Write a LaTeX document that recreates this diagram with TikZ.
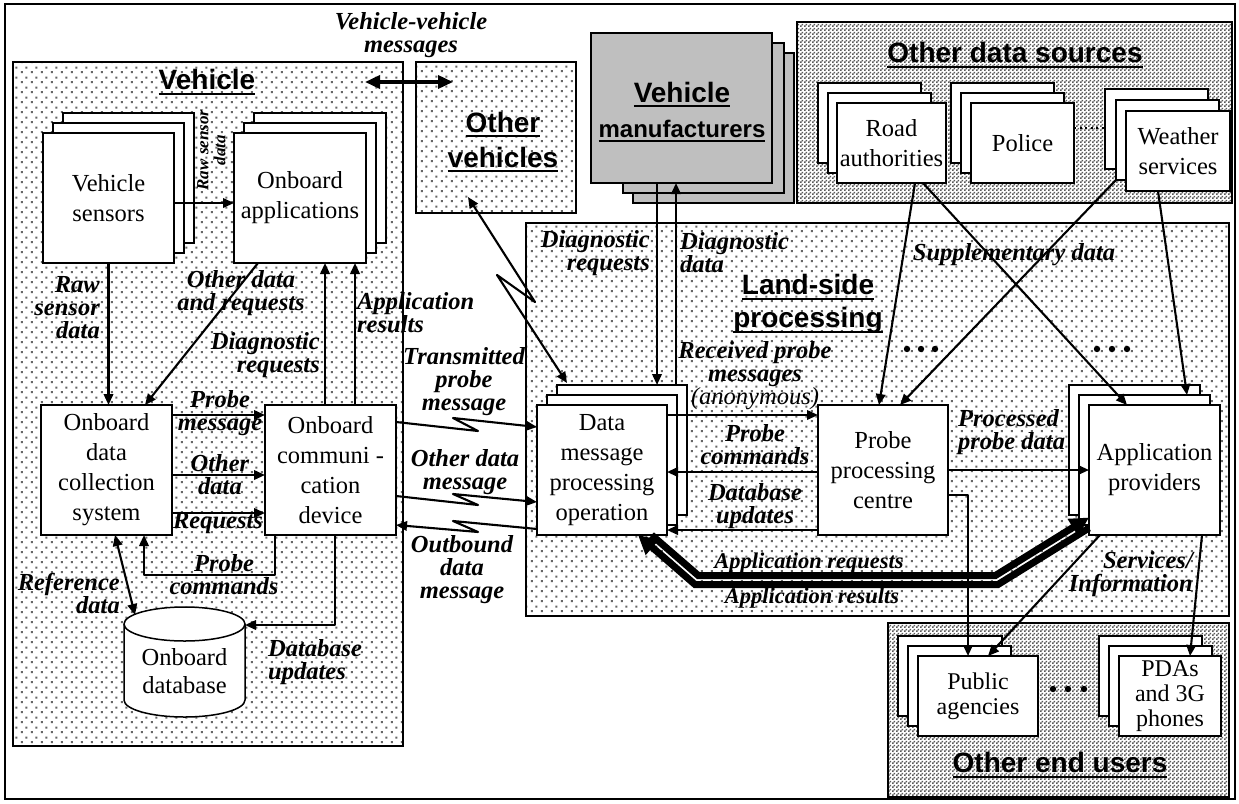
\documentclass[tikz,border=0pt]{standalone}
\usepackage{fontspec}
\setmainfont{Liberation Serif}
\setsansfont{Liberation Sans}
\usetikzlibrary{arrows.meta,patterns,calc}

% sparse staggered dots used for the processing areas
\pgfdeclarepatternformonly{sparsedots}{\pgfqpoint{0pt}{0pt}}{\pgfqpoint{10pt}{10pt}}{\pgfqpoint{10pt}{10pt}}{%
  \pgfpathrectangle{\pgfqpoint{1pt}{1pt}}{\pgfqpoint{2.1pt}{2.1pt}}%
  \pgfpathrectangle{\pgfqpoint{6pt}{6pt}}{\pgfqpoint{2.1pt}{2.1pt}}%
  \pgfusepath{fill}}
% fine checkerboard used for the external groups
\pgfdeclarepatternformonly{finechecker}{\pgfqpoint{0pt}{0pt}}{\pgfqpoint{4pt}{4pt}}{\pgfqpoint{4pt}{4pt}}{%
  \pgfpathrectangle{\pgfqpoint{0pt}{0pt}}{\pgfqpoint{2pt}{2pt}}%
  \pgfpathrectangle{\pgfqpoint{2pt}{2pt}}{\pgfqpoint{2pt}{2pt}}%
  \pgfusepath{fill}}

% heavy underline for the group titles
\newcommand{\ttl}[1]{\leavevmode\setbox0\hbox{#1}\rlap{\rule[-5pt]{\wd0}{2pt}}\box0}

\tikzset{
  region/.style={draw, line width=1.5pt, inner sep=0pt, outer sep=0pt},
  dotregion/.style={region, pattern=sparsedots, pattern color=black!60},
  checkregion/.style={region, pattern=finechecker, pattern color=black!65},
  mfr/.style={draw, fill=black!25, line width=1.5pt, inner sep=0pt, outer sep=0pt},
  card/.style={draw, fill=white, line width=1.5pt, inner sep=0pt, outer sep=0pt,
    align=center, font=\fontsize{24.5}{30}\selectfont},
  smallcard/.style={card, font=\fontsize{24}{25}\selectfont},
  lbl/.style={font=\fontsize{24.5}{23}\selectfont\bfseries\itshape, inner sep=1pt, align=center},
  title/.style={font=\fontsize{28}{35}\selectfont\sffamily\bfseries, align=center, inner sep=0pt},
  arr/.style={line width=2.1pt, line join=round, -{Triangle[length=11pt,width=9.5pt]}},
  darr/.style={line width=2.1pt, line join=round, {Triangle[length=11pt,width=9.5pt]}-{Triangle[length=11pt,width=9.5pt]}},
  bigdarr/.style={line width=3.5pt, {Triangle[length=15pt,width=13pt]}-{Triangle[length=15pt,width=13pt]}},
  fat/.style={line width=7pt, -{Triangle[length=19pt,width=19pt]}},
}

\begin{document}
\begin{tikzpicture}[x=1pt,y=-1pt]
\useasboundingbox (0,0) rectangle (1239,803);
\fill[white] (0,0) rectangle (1239,803);
\draw[line width=1.3pt] (5,4) rectangle (1235,799);

% ---------- group areas ----------
\node[dotregion, minimum width=390pt, minimum height=684pt] (veh) at (208,404) {};
\node[dotregion, minimum width=160pt, minimum height=151pt] (ov) at (496,137.5) {};
\node[checkregion, minimum width=435pt, minimum height=181pt] (ods) at (1014.5,112.5) {};
\node[dotregion, minimum width=703pt, minimum height=393pt] (land) at (877.5,419.5) {};
\node[checkregion, minimum width=341pt, minimum height=174pt] (oeu) at (1058.5,710) {};

\node[mfr, minimum width=161pt, minimum height=150pt] (vm3) at (713.5,128) {};
\node[mfr, minimum width=161pt, minimum height=150pt] (vm2) at (703.5,118) {};
\node[mfr, minimum width=181pt, minimum height=150pt] (vm) at (681.5,108) {};

% ---------- titles ----------
\node[title] (vehT) at (207,82) {\ttl{Vehicle}};
\node[title] (ovT) at (503,142) {\ttl{Other}\\\ttl{vehicles}};
\node[title] (vmT) at (682,112) {\ttl{Vehicle}\\{\fontsize{24}{35}\selectfont\ttl{manufacturers}}};
\node[title] (odsT) at (1015,55) {\ttl{Other data sources}};
\node[title, font=\fontsize{28}{33}\selectfont\sffamily\bfseries] (landT) at (808,304) {\ttl{Land-side}\\\ttl{processing}};
\node[title] (oeuT) at (1060,765) {\ttl{Other end users}};

% ---------- vehicle side ----------
\node[card, minimum width=131pt, minimum height=130pt] (vs3) at (128.5,178) {};
\node[card, minimum width=131pt, minimum height=130pt] (vs2) at (118.5,188) {};
\node[card, minimum width=131pt, minimum height=130pt] (vs) at (108.5,198) {Vehicle\\sensors};

\node[card, minimum width=132pt, minimum height=130pt] (apps3) at (320,178) {};
\node[card, minimum width=132pt, minimum height=130pt] (apps2) at (310,188) {};
\node[card, minimum width=132pt, minimum height=130pt] (apps) at (300,198) {Onboard\\applications};

\node[card, minimum width=131pt, minimum height=130pt] (odcs) at (106.5,470) {Onboard\\data\\collection\\system};
\node[card, minimum width=131pt, minimum height=130pt] (ocd) at (330.5,470) {Onboard\\communi -\\cation\\device};

% onboard database (cylinder drawn round its node)
\node[minimum width=121pt, minimum height=110pt, inner sep=0pt, outer sep=0pt] (db) at (184.5,662) {};
\draw[line width=1.5pt, fill=white]
  ([yshift=-17pt]db.north west) -- ([yshift=17pt]db.south west)
  arc[start angle=180, end angle=360, x radius=60.5pt, y radius=17pt]
  -- ([yshift=-17pt]db.north east)
  arc[start angle=0, end angle=180, x radius=60.5pt, y radius=17pt] -- cycle;
\draw[line width=1.5pt] ([yshift=-17pt]db.north west)
  arc[start angle=180, end angle=360, x radius=60.5pt, y radius=17pt];
\node[align=center, font=\fontsize{24.5}{28}\selectfont] (dbtext) at (184.5,671) {Onboard\\database};

% ---------- land side ----------
\node[card, minimum width=130pt, minimum height=130pt] (dmpo3) at (622,450) {};
\node[card, minimum width=130pt, minimum height=130pt] (dmpo2) at (612,460) {};
\node[card, minimum width=130pt, minimum height=130pt] (dmpo) at (602,470) {Data\\message\\processing\\operation};

\node[card, minimum width=130pt, minimum height=130pt] (ppc) at (883,470) {Probe\\processing\\centre};

\node[card, minimum width=131pt, minimum height=130pt] (ap3) at (1134.5,450) {};
\node[card, minimum width=131pt, minimum height=130pt] (ap2) at (1144.5,460) {};
\node[card, minimum width=131pt, minimum height=130pt] (ap) at (1154.5,470) {Application\\providers};

% ---------- other data sources ----------
\node[card, minimum width=103pt, minimum height=80pt] (ra3) at (869.5,123) {};
\node[card, minimum width=103pt, minimum height=80pt] (ra2) at (879.5,133) {};
\node[card, minimum width=109pt, minimum height=80pt] (ra) at (891.5,143) {Road\\authorities};

\node[card, minimum width=103pt, minimum height=80pt] (pol3) at (1002.5,123) {};
\node[card, minimum width=103pt, minimum height=80pt] (pol2) at (1012.5,133) {};
\node[card, minimum width=103pt, minimum height=80pt] (pol) at (1022.5,143) {Police};

\node[card, minimum width=103pt, minimum height=80pt] (ws3) at (1156.5,129) {};
\node[card, minimum width=103pt, minimum height=80pt] (ws2) at (1167.5,140) {};
\node[card, minimum width=104pt, minimum height=80pt] (ws) at (1178,151) {Weather\\services};

\draw[line width=2pt, dash pattern=on 2pt off 3.5pt] ([yshift=15pt]pol.east) -- ([yshift=15pt]pol.east -| ws3.west);

% ---------- other end users ----------
\node[smallcard, minimum width=104pt, minimum height=80pt] (pa3) at (950,676) {};
\node[smallcard, minimum width=103pt, minimum height=80pt] (pa2) at (959.5,686) {};
\node[smallcard, minimum width=120pt, minimum height=80pt] (pa) at (978,696) {Public\\agencies};

\node[smallcard, minimum width=103pt, minimum height=80pt] (pda3) at (1150.5,676) {};
\node[smallcard, minimum width=103pt, minimum height=80pt] (pda2) at (1160.5,686) {};
\node[smallcard, minimum width=102pt, minimum height=80pt] (pda) at (1170,696) {PDAs\\and 3G\\phones};

% ellipses marking further members
\foreach \x in {907,921,935} \fill (\x,349) circle (3.2pt);
\foreach \x in {1097,1112,1127} \fill (\x,349) circle (3.2pt);
\foreach \x in {1053,1068,1084} \fill (\x,689) circle (3.2pt);

% ---------- labels ----------
\node[lbl] (lvv) at (411,35) {Vehicle-vehicle\\messages};
\node[lbl, rotate=90, font=\fontsize{17}{17}\selectfont\bfseries\itshape] (lrs1) at (211.5,150) {Raw sensor\\data};
\node[lbl, align=right, anchor=east] (lrs2) at (101,308) {Raw\\sensor\\data};
\node[lbl] (lodr) at (241,293) {Other data\\and requests};
\node[lbl, align=right, anchor=east] (ldr1) at (321,355) {Diagnostic\\requests};
\node[lbl, align=left, anchor=west] (lar) at (356,313) {Application\\results};
\node[lbl] (lpm) at (220,413) {Probe\\message};
\node[lbl] (lod) at (220,475) {Other\\data};
\node[lbl] (lrq) at (218,523) {Requests};
\node[lbl] (lpc1) at (224,575) {Probe\\commands};
\node[lbl, align=right, anchor=east] (lref) at (121,593) {Reference\\data};
\node[lbl, align=left, anchor=west] (ldu1) at (267,662) {Database\\updates};
\node[lbl] (ltpm) at (464,382) {Transmitted\\probe\\message};
\node[lbl] (lodm) at (465,472) {Other data\\message};
\node[lbl] (lout) at (462,570) {Outbound\\data\\message};
\node[lbl, align=right, anchor=east] (ldr2) at (651,253) {Diagnostic\\requests};
\node[lbl, align=left, anchor=west] (ldd) at (679,253) {Diagnostic\\data};
\node[lbl] (lsup) at (1014,255) {Supplementary data};
\node[lbl] (lrpm) at (755,376) {Received probe\\messages\\{\mdseries(anonymous)}};
\node[lbl] (lpc2) at (755,445) {Probe\\commands};
\node[lbl] (ldu2) at (755,506) {Database\\updates};
\node[lbl, align=left, anchor=west] (lppd) at (957,432) {Processed\\probe data};
\node[lbl, font=\fontsize{22.5}{22}\selectfont\bfseries\itshape] (lareq) at (809,563) {Application requests};
\node[lbl, font=\fontsize{22.5}{22}\selectfont\bfseries\itshape] (lares) at (812,598) {Application results};
\node[lbl, align=right, anchor=east] (lsi) at (1194,574) {Services/\\Information};

% ---------- connectors: vehicle ----------
\draw[arr] (vs.south) -- (vs.south |- odcs.north);
\draw[arr] ([yshift=-5pt]vs.east) -- ([yshift=-5pt]vs.east -| apps.west);
\draw[arr] ([xshift=-42pt]apps.south) -- ([xshift=38.5pt]odcs.north);
\draw[arr] ([xshift=-5.5pt]ocd.north) -- ([xshift=-5.5pt]ocd.north |- apps.south);
\draw[arr] ([xshift=24.5pt]ocd.north) -- ([xshift=24.5pt]ocd.north |- apps.south);
\draw[arr] ([yshift=55pt]odcs.east) -- ([yshift=55pt]odcs.east -| ocd.west);
\draw[arr] ([yshift=-5pt]odcs.east) -- ([yshift=-5pt]odcs.east -| ocd.west);
\draw[arr] ([yshift=-43pt]odcs.east) -- ([yshift=-43pt]odcs.east -| ocd.west);
\draw[arr] ([xshift=-55.5pt]ocd.south) -- ++(0,40) -| ([xshift=37.5pt]odcs.south);
\draw[darr] ([xshift=8.5pt]odcs.south) -- ([xshift=11pt,yshift=-8pt]db.north west);
\draw[arr] ([xshift=4.5pt]ocd.south) |- ([yshift=37pt]db.east);

% ---------- connectors: vehicle to outside ----------
\draw[bigdarr] ([xshift=-38pt,yshift=-20pt]veh.north east) -- ([xshift=37pt,yshift=-20pt]ov.north west);
\draw[darr] ([xshift=52pt,yshift=16pt]ov.south west) -- ++(67,105) -- ++(-38,-27) -- ([xshift=10pt,yshift=2pt]dmpo3.north west);
\draw[arr] ([yshift=48pt]ocd.east) -- ++(82,9) -- ++(-25,-13) -- ([yshift=43pt]dmpo.west);
\draw[arr] ([yshift=-26pt]ocd.east) -- ++(82,9) -- ++(-25,-11) -- ([yshift=-32pt]dmpo.west);
\draw[arr] ([yshift=-59pt]dmpo.west) -- ++(-84,-8) -- ++(25,11) -- ([yshift=-55pt]ocd.east);

% ---------- connectors: manufacturers and data sources ----------
\draw[arr] ([xshift=-24.5pt]vm.south) -- ([xshift=-24.5pt]vm.south |- dmpo3.north);
\draw[arr] ([xshift=-5.5pt]vm.south |- dmpo3.north) -- ([xshift=-5.5pt]vm.south);
\draw[arr] ([xshift=23.5pt]ra.south) -- ([xshift=-4pt]ppc.north);
\draw[arr] ([xshift=31.5pt]ra.south) -- ([xshift=-27.5pt]ap.north);
\draw[arr] (ws2.south west) -- ([xshift=17pt]ppc.north);
\draw[arr] ([xshift=-20pt]ws.south) -- ([xshift=42.5pt]ap2.north);

% ---------- connectors: land side ----------
\draw[arr] ([yshift=55pt]dmpo.east) -- ([yshift=55pt]dmpo.east -| ppc.west);
\draw[arr] ([yshift=-2pt]ppc.west) -- ([yshift=-2pt]ppc.west -| dmpo.east);
\draw[arr] ([yshift=-60pt]ppc.west) -- ([yshift=-60pt]ppc.west -| dmpo.east);
\draw[arr] (ppc.east) -- (ppc.east -| ap.west);
\draw[arr] ([yshift=-25pt]ppc.east) -| ([xshift=-10pt]pa.north);
\draw[arr] ([xshift=-54.5pt]ap.south) -- ([xshift=10pt]pa.north);
\draw[arr] ([xshift=47.5pt]ap.south) -- ([xshift=20pt]pda.north);

% application requests / results
\draw[fat] ([xshift=49.6pt]dmpo.south) -- ++(46.7,40.5) -- ++(297.1,0) -- ([yshift=17.5pt]ap.south west);
\draw[fat] ([yshift=7pt]ap.south west) -- ++(-91,56.5) -- ++(-303,0) -- ([xshift=36pt]dmpo.south);
\end{tikzpicture}
\end{document}
